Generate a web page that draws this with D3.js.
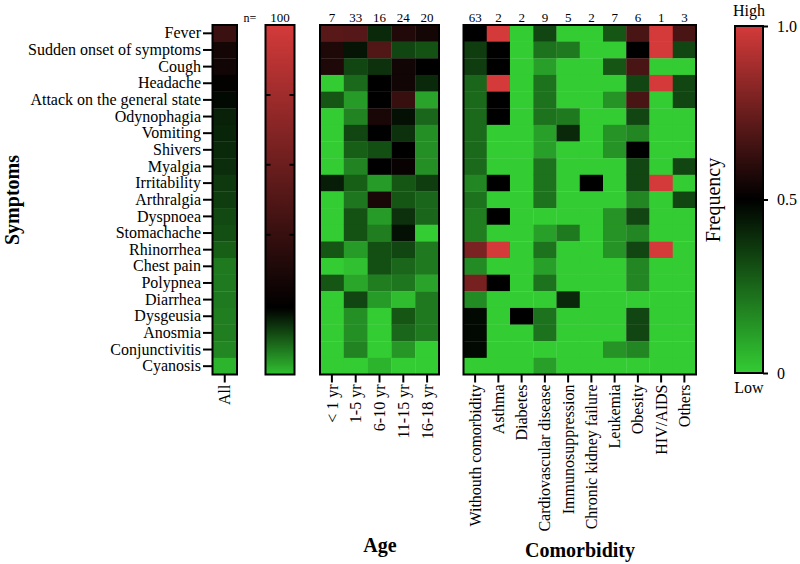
<!DOCTYPE html>
<html>
<head>
<meta charset="utf-8">
<title>Symptoms heatmap</title>
<script src="https://cdn.jsdelivr.net/npm/d3@7"></script>
<style>
body { margin: 0; background: #fff; }
text { font-family: "Liberation Serif", "Times New Roman", serif; fill: #000; }
</style>
</head>
<body>
<script>
// ---- data ----
var symptoms = ["Fever", "Sudden onset of symptoms", "Cough", "Headache", "Attack on the general state",
  "Odynophagia", "Vomiting", "Shivers", "Myalgia", "Irritability", "Arthralgia", "Dyspnoea",
  "Stomachache", "Rhinorrhea", "Chest pain", "Polypnea", "Diarrhea", "Dysgeusia", "Anosmia",
  "Conjunctivitis", "Cyanosis"];

var allValues = [0.64, 0.55, 0.54, 0.51, 0.48, 0.42, 0.41, 0.40, 0.39, 0.36, 0.35,
  0.32, 0.31, 0.27, 0.20, 0.20, 0.20, 0.19, 0.19, 0.17, 0.06];
var totalN = 100;

var ageGroups = ["< 1 yr", "1-5 yr", "6-10 yr", "11-15 yr", "16-18 yr"];
var ageN = [7, 33, 16, 24, 20];
var ageValues = [
  [0.71, 0.70, 0.40, 0.58, 0.55],
  [0.57, 0.45, 0.69, 0.33, 0.30],
  [0.57, 0.33, 0.38, 0.54, 0.50],
  [0.00, 0.24, 0.50, 0.54, 0.40],
  [0.29, 0.12, 0.50, 0.63, 0.10],
  [0.00, 0.18, 0.56, 0.46, 0.25],
  [0.00, 0.33, 0.50, 0.38, 0.15],
  [0.00, 0.27, 0.31, 0.50, 0.15],
  [0.00, 0.18, 0.50, 0.52, 0.15],
  [0.43, 0.27, 0.12, 0.29, 0.35],
  [0.00, 0.21, 0.56, 0.29, 0.25],
  [0.00, 0.30, 0.12, 0.38, 0.25],
  [0.00, 0.30, 0.19, 0.46, 0.00],
  [0.29, 0.12, 0.31, 0.33, 0.20],
  [0.00, 0.03, 0.31, 0.25, 0.20],
  [0.29, 0.09, 0.19, 0.21, 0.10],
  [0.00, 0.33, 0.12, 0.04, 0.20],
  [0.00, 0.15, 0.00, 0.29, 0.20],
  [0.00, 0.15, 0.00, 0.25, 0.20],
  [0.00, 0.18, 0.00, 0.13, 0.00],
  [0.00, 0.00, 0.06, 0.00, 0.00]
];

var comorbidities = ["Withouth comorbidity", "Asthma", "Diabetes", "Cardiovascular disease",
  "Immunosuppression", "Chronic kidney failure", "Leukemia", "Obesity", "HIV/AIDS", "Others"];
var comorbN = [63, 2, 2, 9, 5, 2, 7, 6, 1, 3];
var comorbValues = [
  [0.50, 1.0, 0.0, 0.33, 0.0, 0.0, 0.29, 0.67, 1.0, 0.67],
  [0.35, 0.5, 0.0, 0.22, 0.2, 0.0, 0.00, 0.50, 1.0, 0.33],
  [0.35, 0.5, 0.0, 0.11, 0.0, 0.0, 0.29, 0.67, 0.0, 0.00],
  [0.25, 1.0, 0.0, 0.22, 0.0, 0.0, 0.00, 0.33, 1.0, 0.33],
  [0.24, 0.5, 0.0, 0.22, 0.0, 0.0, 0.14, 0.67, 0.0, 0.33],
  [0.24, 0.5, 0.0, 0.22, 0.2, 0.0, 0.00, 0.33, 0.0, 0.00],
  [0.24, 0.0, 0.0, 0.11, 0.4, 0.0, 0.14, 0.17, 0.0, 0.00],
  [0.24, 0.0, 0.0, 0.11, 0.0, 0.0, 0.14, 0.50, 0.0, 0.00],
  [0.24, 0.0, 0.0, 0.22, 0.0, 0.0, 0.00, 0.33, 0.0, 0.33],
  [0.17, 0.5, 0.0, 0.22, 0.0, 0.5, 0.00, 0.33, 1.0, 0.00],
  [0.22, 0.0, 0.0, 0.22, 0.0, 0.0, 0.00, 0.17, 0.0, 0.33],
  [0.19, 0.5, 0.0, 0.00, 0.0, 0.0, 0.14, 0.33, 0.0, 0.00],
  [0.19, 0.0, 0.0, 0.11, 0.2, 0.0, 0.14, 0.17, 0.0, 0.00],
  [0.79, 1.0, 0.0, 0.22, 0.0, 0.0, 0.14, 0.33, 1.0, 0.00],
  [0.16, 0.0, 0.0, 0.11, 0.0, 0.0, 0.00, 0.17, 0.0, 0.00],
  [0.78, 0.5, 0.0, 0.22, 0.0, 0.0, 0.00, 0.17, 0.0, 0.00],
  [0.16, 0.0, 0.0, 0.00, 0.4, 0.0, 0.00, 0.00, 0.0, 0.00],
  [0.48, 0.0, 0.5, 0.22, 0.0, 0.0, 0.00, 0.33, 0.0, 0.00],
  [0.48, 0.0, 0.0, 0.22, 0.0, 0.0, 0.00, 0.33, 0.0, 0.00],
  [0.48, 0.0, 0.0, 0.00, 0.0, 0.0, 0.14, 0.17, 0.0, 0.00],
  [0.00, 0.0, 0.0, 0.11, 0.0, 0.0, 0.00, 0.00, 0.0, 0.00]
];

// gradient of the n= column: [offset from top, frequency]
var nGradient = [[0, 1.0], [0.81, 0.5], [1, 0.03]];
var legendTicks = [0, 0.5, 1];

// ---- layout ----
var W = 800, H = 564;
var mapTop = 25, mapBottom = 374.5;

var svg = d3.select("body").append("svg").attr("width", W).attr("height", H);
var defs = svg.append("defs");

var color = d3.scaleLinear().domain([0, 0.5, 1]).range(["#33cc33", "#000000", "#d43a3a"]);

var yScale = d3.scaleBand().domain(symptoms).range([mapTop, mapBottom]);
var xAll = d3.scaleBand().domain(["All"]).range([212.5, 237]);
var xAge = d3.scaleBand().domain(ageGroups).range([320, 439]);
var xCom = d3.scaleBand().domain(comorbidities).range([463.5, 696]);

function drawBlock(xScale, cols, getValue, counts) {
  var g = svg.append("g");
  cols.forEach(function(c, j) {
    g.selectAll(null).data(symptoms).enter().append("rect")
      .attr("x", xScale(c))
      .attr("y", d => yScale(d))
      .attr("width", xScale.bandwidth() + 0.3)
      .attr("height", yScale.bandwidth() + 0.3)
      .attr("fill", (d, i) => color(getValue(i, j)));
  });
  var r = xScale.range();
  g.append("rect").attr("x", r[0]).attr("y", mapTop)
    .attr("width", r[1] - r[0]).attr("height", mapBottom - mapTop)
    .attr("fill", "none").attr("stroke", "#000").attr("stroke-width", 2);

  var ax = svg.append("g").attr("transform", "translate(0," + mapBottom + ")")
    .call(d3.axisBottom(xScale).tickSize(8).tickSizeOuter(0));
  ax.select(".domain").remove();
  ax.selectAll(".tick line").attr("stroke-width", 2);
  ax.selectAll(".tick text")
    .attr("transform", "rotate(-90)")
    .attr("x", -10).attr("y", 0).attr("dy", "0.35em")
    .attr("text-anchor", "end")
    .style("font-size", "16px")
    .style("font-family", "Liberation Serif");

  if (counts) {
    svg.append("g").selectAll("text").data(cols).enter().append("text")
      .attr("x", d => xScale(d) + xScale.bandwidth() / 2)
      .attr("y", 22)
      .attr("text-anchor", "middle")
      .style("font-size", "13px")
      .text((d, j) => counts[j]);
  }
}

drawBlock(xAll, ["All"], (i, j) => allValues[i], null);
drawBlock(xAge, ageGroups, (i, j) => ageValues[i][j], ageN);
drawBlock(xCom, comorbidities, (i, j) => comorbValues[i][j], comorbN);

// symptom axis
var yAx = svg.append("g").attr("transform", "translate(212,0)")
  .call(d3.axisLeft(yScale).tickSize(9).tickPadding(2).tickSizeOuter(0));
yAx.select(".domain").remove();
yAx.selectAll(".tick line").attr("stroke-width", 2);
yAx.selectAll(".tick text").style("font-size", "16px").style("font-family", "Liberation Serif");

// n= gradient column
var nGrad = defs.append("linearGradient").attr("id", "nGrad")
  .attr("x1", 0).attr("y1", 0).attr("x2", 0).attr("y2", 1);
nGrad.selectAll("stop").data(nGradient).enter().append("stop")
  .attr("offset", d => d[0]).attr("stop-color", d => color(d[1]));
var nx0 = 265.5, nx1 = 294.5;
svg.append("rect").attr("x", nx0).attr("y", mapTop)
  .attr("width", nx1 - nx0).attr("height", mapBottom - mapTop)
  .attr("fill", "url(#nGrad)").attr("stroke", "#000").attr("stroke-width", 2);
var nScale = d3.scaleLinear().domain([0, 1]).range([mapBottom, mapTop]);
var inner = nScale.ticks(5).filter(t => t > 0 && t < 1);
svg.append("g").selectAll("path").data(inner).enter().append("path")
  .attr("d", t => "M" + nx0 + "," + nScale(t) + "h5M" + nx1 + "," + nScale(t) + "h-5")
  .attr("stroke", "#000").attr("stroke-width", 2);
svg.append("text").attr("x", 250).attr("y", 22).attr("text-anchor", "middle")
  .style("font-size", "12px").text("n=");
svg.append("text").attr("x", (nx0 + nx1) / 2).attr("y", 22).attr("text-anchor", "middle")
  .style("font-size", "13px").text(totalN);

// colour legend
var lgGrad = defs.append("linearGradient").attr("id", "lgGrad")
  .attr("x1", 0).attr("y1", 1).attr("x2", 0).attr("y2", 0);
lgGrad.selectAll("stop").data(legendTicks).enter().append("stop")
  .attr("offset", d => d).attr("stop-color", d => color(d));
var legendScale = d3.scaleLinear().domain([0, 1]).range([373, 26]);
var lx = 735, lw = 28;
svg.append("rect").attr("x", lx).attr("y", legendScale(1))
  .attr("width", lw).attr("height", legendScale(0) - legendScale(1))
  .attr("fill", "url(#lgGrad)").attr("stroke", "#000").attr("stroke-width", 2);
var lAx = svg.append("g").attr("transform", "translate(" + (lx + lw) + ",0)")
  .call(d3.axisRight(legendScale).tickValues(legendTicks).tickSize(5).tickPadding(9)
    .tickFormat(d => d === 0 ? "0" : d3.format(".1f")(d)));
lAx.select(".domain").remove();
lAx.selectAll(".tick line").attr("stroke-width", 2);
lAx.selectAll(".tick text").style("font-size", "16px").style("font-family", "Liberation Serif");
svg.append("text").attr("x", lx + lw / 2).attr("y", 16).attr("text-anchor", "middle")
  .style("font-size", "16px").text("High");
svg.append("text").attr("x", lx + lw / 2).attr("y", 393).attr("text-anchor", "middle")
  .style("font-size", "16px").text("Low");
svg.append("text").attr("transform", "translate(720,200) rotate(-90)")
  .attr("text-anchor", "middle").style("font-size", "20px").text("Frequency");

// titles
svg.append("text").attr("transform", "translate(19,200) rotate(-90)")
  .attr("text-anchor", "middle").style("font-size", "20px").style("font-weight", "bold").text("Symptoms");
svg.append("text").attr("x", 380).attr("y", 552).attr("text-anchor", "middle")
  .style("font-size", "20px").style("font-weight", "bold").text("Age");
svg.append("text").attr("x", 580).attr("y", 557).attr("text-anchor", "middle")
  .style("font-size", "20px").style("font-weight", "bold").text("Comorbidity");
</script>
</body>
</html>
